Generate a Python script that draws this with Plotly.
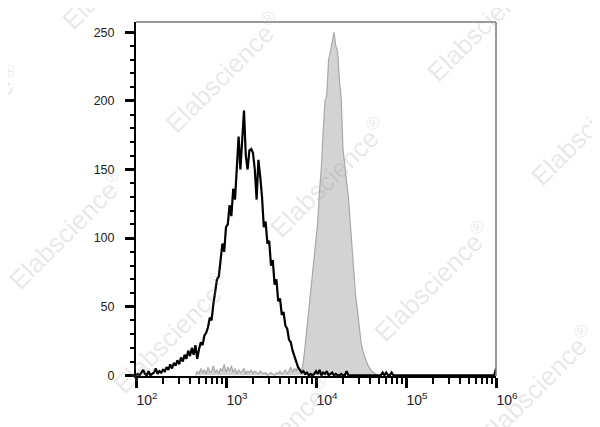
import plotly.graph_objects as go

# ---------------- data (log10 channel grid, counts per bin) ----------------
BIN = 0.02

# control histogram (black outline), bins from 10^2.00 to 10^6.00
black_start = 2.00
black_counts = [
    0, 1, 0, 2, 4, 1, 0, 3, 0, 1,            # 2.00-2.18
    2, 5, 1, 3, 2, 4, 3, 6, 4, 8,            # 2.20-2.38
    5, 9, 7, 11, 8, 13, 10, 15, 12, 18,      # 2.40-2.58
    14, 20, 15, 22, 12, 19, 24, 22, 29, 31,  # 2.60-2.78
    35, 42, 40, 52, 60, 70, 72, 84, 96, 90,  # 2.80-2.98
    108, 110, 124, 116, 136, 128, 152, 174, 150, 168,  # 3.00-3.18
    193, 160, 150, 164, 165, 162, 150, 128, 157, 145,  # 3.20-3.38
    130, 108, 112, 96, 98, 80, 84, 66, 70, 54,         # 3.40-3.58
    56, 44, 46, 36, 34, 26, 24, 18, 14, 9,             # 3.60-3.78
    6, 4, 2, 3, 1, 2, 0, 1, 0, 1,                      # 3.80-3.98
    3, 1, 4, 0, 2, 1, 3, 0, 1, 2,                      # 4.00-4.18
    0, 1, 0, 0, 1, 0, 0, 3, 0, 0,                      # 4.20-4.38
    0, 0, 0, 0, 0, 0, 0, 0, 0, 0,                      # 4.40-4.58
    0, 0, 0, 0, 0, 0, 0, 2, 0, 2,                      # 4.60-4.78
    0, 0, 2, 0, 0, 0, 0, 0, 0, 0,                      # 4.80-4.98
    0, 0, 0, 0, 0, 0, 0, 0, 0, 0,                      # 5.00-5.18
    0, 0, 0, 0, 0, 0, 0, 0, 0, 0,                      # 5.20-5.38
    0, 0, 0, 0, 0, 0, 0, 0, 0, 0,                      # 5.40-5.58
    0, 0, 0, 0, 0, 0, 0, 0, 0, 0,                      # 5.60-5.78
    0, 0, 0, 0, 0, 0, 0, 0, 0, 0,                      # 5.80-5.98
    5,                                                 # 6.00
]

# stained histogram (grey filled), bins from 10^2.66 to 10^4.68
gray_start = 2.66
gray_counts = [
    0, 3, 1, 5, 2, 4, 1, 6, 2, 3,            # 2.66-2.84
    7, 2, 4, 1, 5, 3, 8, 2, 6, 3,            # 2.86-3.04
    7, 2, 5, 1, 4, 2, 3, 5, 1, 3,            # 3.06-3.24
    2, 4, 1, 3, 2, 1, 3, 2, 1, 2,            # 3.26-3.44
    0, 1, 2, 1, 0, 2, 1, 3, 1, 2,            # 3.46-3.64
    4, 1, 3, 6, 2, 5, 3, 7, 4, 3,            # 3.66-3.84
    10, 22, 35, 48, 60, 72, 86, 98, 112, 135,        # 3.86-4.04
    152, 178, 200, 204, 230, 236, 242, 250, 240, 236,  # 4.06-4.24
    215, 202, 165, 150, 141, 130, 112, 90, 72, 58,     # 4.26-4.44
    48, 34, 24, 18, 13, 10, 7, 5, 3, 2,                # 4.46-4.64
    1, 0,                                              # 4.66-4.68
]

x_tick_exponents = [2, 3, 4, 5, 6]
y_ticks = [0, 50, 100, 150, 200, 250]
watermark_text = "Elabscience<sup>®</sup>"

# ---------------- figure ----------------
black_x = [10 ** (black_start + BIN * i) for i in range(len(black_counts))]
gray_x = [10 ** (gray_start + BIN * i) for i in range(len(gray_counts))]

fig = go.Figure()
fig.add_trace(go.Scatter(
    x=gray_x, y=gray_counts, mode="lines", fill="tozeroy",
    fillcolor="#d3d3d3", line=dict(color="#a8a8a8", width=1.2),
    hoverinfo="skip"))
fig.add_trace(go.Scatter(
    x=black_x, y=black_counts, mode="lines",
    line=dict(color="black", width=2.2), hoverinfo="skip"))

# page body has an 8px margin: figure is 592x419 so it ends at the window edge
OFF = 8
W, H = 600 - OFF, 427 - OFF
L, R, T, B = 136 - OFF, 104, 22 - OFF, 51
pw, ph = W - L - R, H - T - B

fig.update_layout(
    width=W, height=H,
    margin=dict(l=L, r=R, t=T, b=B, pad=0),
    paper_bgcolor="white", plot_bgcolor="white",
    showlegend=False,
    font=dict(family="Arial, 'Liberation Sans', sans-serif", color="#222222"),
)

fig.update_xaxes(
    type="log", range=[2, 6],
    tickmode="array",
    tickvals=[10 ** e for e in x_tick_exponents],
    ticktext=["10<sup>%d</sup>" % e for e in x_tick_exponents],
    ticks="outside", ticklen=10, tickwidth=2.5, tickcolor="black",
    showline=True, linecolor="black", linewidth=2,
    showgrid=False, zeroline=False,
    tickfont=dict(size=14, color="#222222"),
    ticklabelshift=11,
    minor=dict(ticks="outside", ticklen=6, tickwidth=1.5, tickcolor="black",
               dtick="D1", showgrid=False),
)
fig.update_yaxes(
    range=[-0.5, 257.5],
    tickmode="array", tickvals=y_ticks,
    ticks="outside", ticklen=9, tickwidth=2.5, tickcolor="black",
    showline=True, linecolor="black", linewidth=2,
    showgrid=False, zeroline=False,
    tickfont=dict(size=12.5, color="#222222"),
    ticklabelstandoff=8,
    minor=dict(ticks="outside", ticklen=4, tickwidth=1.5, tickcolor="black",
               dtick=10, showgrid=False),
)

# grey top / right frame
fig.add_shape(type="line", xref="paper", yref="paper", x0=0, x1=1, y0=1, y1=1,
              line=dict(color="#7a7a7a", width=1.5))
fig.add_shape(type="line", xref="paper", yref="paper", x0=1, x1=1, y0=0, y1=1,
              line=dict(color="#7a7a7a", width=1.5))

# watermark (centres in window pixels)
wm_centers = [(-37, 125), (67, 229), (171, 333), (275, 437),
              (120, -31), (224, 73), (328, 177), (432, 281), (536, 385),
              (485, 21), (589, 125)]
for cx, cy in wm_centers:
    fig.add_annotation(
        text=watermark_text, xref="paper", yref="paper",
        x=(cx - 136) / pw, y=(376 - cy) / ph,
        xanchor="center", yanchor="middle", showarrow=False,
        textangle=-45,
        font=dict(size=26, color="rgba(150,150,150,0.22)",
                  family="Arial, 'Liberation Sans', sans-serif"),
    )

fig.write_html("out.html")
